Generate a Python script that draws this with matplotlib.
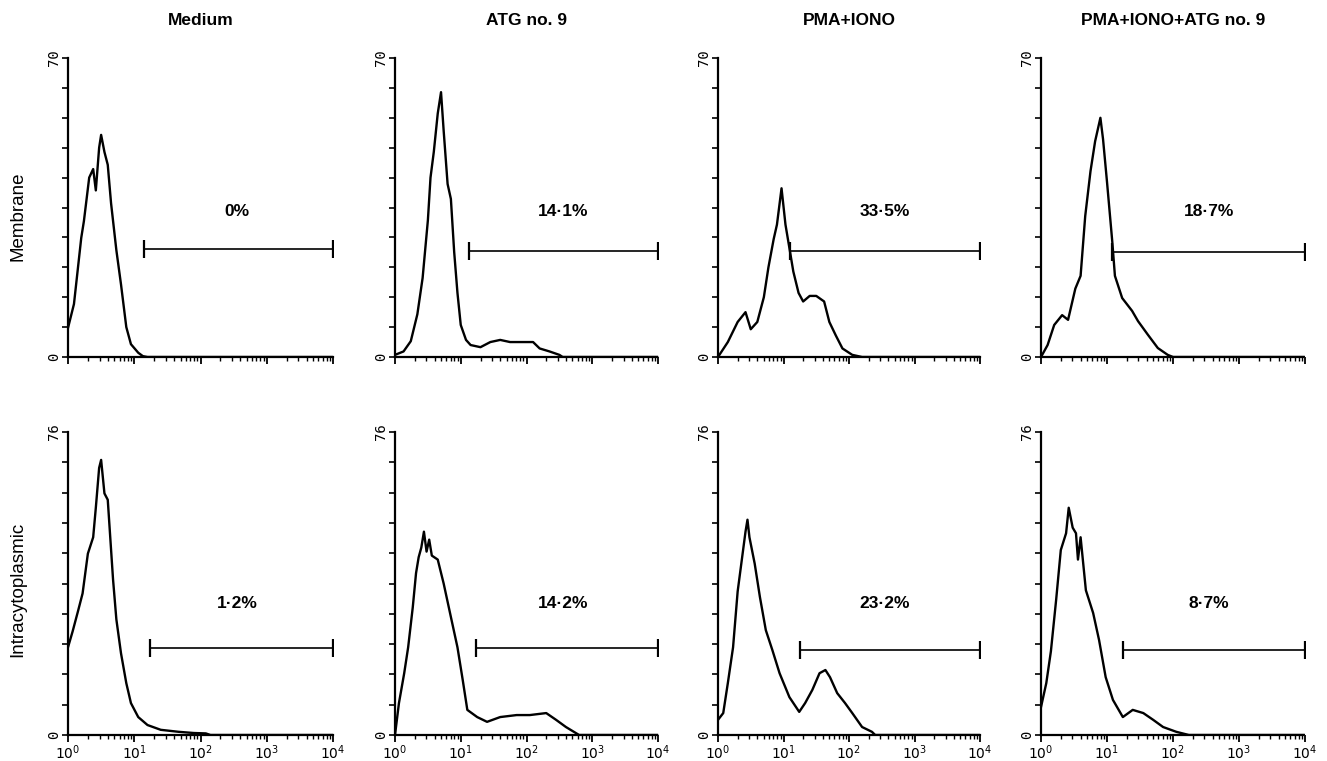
"""
Flow cytometry histograms: membrane vs intracytoplasmic staining
under four culture conditions, with marker gates and % positive.
"""
import numpy as np
import matplotlib
matplotlib.use("Agg")
import matplotlib.pyplot as plt
from matplotlib.ticker import FixedLocator, NullFormatter

plt.rcParams["font.family"] = ["Liberation Sans", "DejaVu Sans"]

CONDITIONS = ["Medium", "ATG no. 9", "PMA+IONO", "PMA+IONO+ATG no. 9"]
ROWS = ["Membrane", "Intracytoplasmic"]
YMAX = [70, 76]

# histogram outlines: position in decades (log10 fluorescence) and cell count
mem_medium_x = [0.0, 0.09, 0.2, 0.24, 0.32, 0.38, 0.42, 0.47, 0.5, 0.55, 0.6, 0.65,
                0.73, 0.8, 0.88, 0.95, 1.06, 1.13, 1.2, 4.0]
mem_medium_y = [6.8, 12.4, 27.9, 31.8, 42, 44, 39, 49, 52, 48, 45, 36,
                25, 17, 7, 3, 1, 0.2, 0, 0]

mem_atg_x = [0.0, 0.13, 0.24, 0.34, 0.42, 0.5, 0.54, 0.59, 0.65, 0.7, 0.74, 0.8,
             0.85, 0.9, 0.95, 1.0, 1.08, 1.15, 1.3, 1.45, 1.6, 1.75, 1.95, 2.1,
             2.2, 2.35, 2.5, 2.55, 4.0]
mem_atg_y = [0.5, 1.3, 3.7, 10, 18.5, 32, 42, 48, 57, 62, 53, 40.5,
             37, 24.6, 15, 7.5, 4, 2.8, 2.3, 3.5, 4, 3.5, 3.5, 3.5,
             2, 1.3, 0.5, 0, 0]

mem_pma_x = [0.0, 0.15, 0.3, 0.42, 0.5, 0.6, 0.7, 0.77, 0.85, 0.9, 0.97, 1.03,
             1.1, 1.15, 1.23, 1.3, 1.4, 1.5, 1.62, 1.7, 1.8, 1.9, 2.05, 2.2, 4.0]
mem_pma_y = [0, 3.5, 8.2, 10.5, 6.5, 8.2, 14, 21, 27.6, 31, 39.5, 31,
             24.6, 20, 15, 13, 14.3, 14.3, 13, 8.2, 5, 2, 0.5, 0, 0]

mem_both_x = [0.0, 0.1, 0.2, 0.32, 0.41, 0.52, 0.6, 0.67, 0.75, 0.82, 0.9, 0.94,
              1.0, 1.08, 1.12, 1.23, 1.38, 1.47, 1.62, 1.77, 1.92, 2.0, 4.0]
mem_both_y = [0, 2.8, 7.5, 9.8, 8.7, 16, 19, 33, 43.5, 50.5, 56, 51,
              41, 27, 19, 13.8, 10.8, 8.4, 5.2, 2.1, 0.5, 0, 0]

ic_medium_x = [0.0, 0.07, 0.15, 0.22, 0.3, 0.38, 0.42, 0.47, 0.5, 0.55, 0.6, 0.68,
               0.73, 0.8, 0.88, 0.95, 1.06, 1.2, 1.4, 1.67, 1.9, 2.08, 2.15, 4.0]
ic_medium_y = [22, 26, 31, 35.5, 45.5, 49.6, 57, 67, 69, 60.6, 59, 39,
               29, 20.5, 13, 8, 4.5, 2.5, 1.3, 0.8, 0.5, 0.4, 0, 0]

ic_atg_x = [0.0, 0.06, 0.14, 0.2, 0.27, 0.32, 0.36, 0.4, 0.44, 0.48, 0.52, 0.56, 0.65,
            0.74, 0.85, 0.95, 1.03, 1.1, 1.25, 1.4, 1.6, 1.85, 2.05, 2.3, 2.45,
            2.6, 2.75, 2.8, 4.0]
ic_atg_y = [0, 8, 15.5, 22, 32, 40.6, 44.6, 47, 51, 46, 49, 45, 44,
            38, 29.6, 22, 13.8, 6.3, 4.5, 3.3, 4.5, 5, 5, 5.5, 3.8,
            2, 0.5, 0, 0]

ic_pma_x = [0.0, 0.08, 0.15, 0.23, 0.3, 0.38, 0.42, 0.45, 0.48, 0.56, 0.64, 0.73,
            0.83, 0.94, 1.09, 1.24, 1.33, 1.44, 1.55, 1.64, 1.71, 1.82, 1.94, 2.05,
            2.2, 2.35, 2.4, 4.0]
ic_pma_y = [3.8, 5.5, 13, 22, 36, 46, 51, 54, 49.6, 43, 34.6, 26.3,
            21.3, 15.5, 9.5, 5.8, 8, 11.3, 15.5, 16.3, 14.5, 10.5, 8, 5.5,
            2, 0.8, 0, 0]

ic_both_x = [0.0, 0.08, 0.15, 0.23, 0.3, 0.38, 0.42, 0.48, 0.53, 0.56, 0.6, 0.68,
             0.79, 0.88, 0.98, 1.09, 1.24, 1.39, 1.55, 1.7, 1.85, 2.05, 2.24, 4.0]
ic_both_y = [7, 13, 21, 34, 46.4, 50.6, 57, 52, 50.6, 44, 49.6, 36.3,
             30.6, 23.8, 14.5, 8.8, 4.5, 6.3, 5.5, 3.8, 2, 0.8, 0, 0]

HIST_X = [[mem_medium_x, mem_atg_x, mem_pma_x, mem_both_x],
          [ic_medium_x, ic_atg_x, ic_pma_x, ic_both_x]]
HIST_Y = [[mem_medium_y, mem_atg_y, mem_pma_y, mem_both_y],
          [ic_medium_y, ic_atg_y, ic_pma_y, ic_both_y]]

# marker gates (start decade, end decade, height) and % positive
gate_start = [[1.15, 1.13, 1.10, 1.08], [1.24, 1.23, 1.25, 1.24]]
gate_end = [[4.0, 4.0, 4.0, 4.0], [4.0, 4.0, 4.0, 4.0]]
gate_level = [[25.3, 24.8, 24.8, 24.5], [21.8, 21.8, 21.3, 21.3]]
pct_labels = [["0%", "14·1%", "33·5%", "18·7%"], ["1·2%", "14·2%", "23·2%", "8·7%"]]

XTICK_LABELS = [r"$10^{0}$", r"$10^{1}$", r"$10^{2}$", r"$10^{3}$", r"$10^{4}$"]


def main():
    fig = plt.figure(figsize=(13.27, 7.61), dpi=100)

    lefts = [68, 395, 718, 1041]
    widths = [265, 263, 262, 264]
    row_top = [58, 432]
    row_bot = [357, 735]
    W, H = 1327, 761

    minor = [m * 10 ** k for k in range(4) for m in range(2, 10)]

    for r in range(2):
        for c in range(4):
            ax = fig.add_axes([lefts[c] / W, 1 - row_bot[r] / H,
                               widths[c] / W, (row_bot[r] - row_top[r]) / H])
            xs = 10 ** np.array(HIST_X[r][c])
            ax.plot(xs, HIST_Y[r][c], color="black", lw=1.7)

            ax.set_xscale("log")
            ax.set_xlim(1, 1e4)
            ax.set_ylim(0, YMAX[r])

            for side in ("top", "right"):
                ax.spines[side].set_visible(False)
            for side in ("left", "bottom"):
                ax.spines[side].set_linewidth(1.6)
                ax.spines[side].set_linestyle((0, (6, 1)))

            ax.xaxis.set_major_locator(FixedLocator([1, 10, 100, 1000, 10000]))
            ax.xaxis.set_minor_locator(FixedLocator(minor))
            ax.xaxis.set_minor_formatter(NullFormatter())
            ax.tick_params(axis="x", which="major", length=5, width=1.3,
                           direction="out", pad=1)
            ax.tick_params(axis="x", which="minor", length=3, width=1.0, direction="out")
            if r == 1:
                ax.set_xticklabels(XTICK_LABELS, fontsize=10, family="DejaVu Sans Mono")
            else:
                ax.set_xticklabels([])

            yt = np.linspace(0, YMAX[r], 11)
            ax.set_yticks(yt)
            ylabs = [""] * 11
            ylabs[0] = "0"
            ylabs[-1] = str(YMAX[r])
            ax.set_yticklabels(ylabs, rotation=90, va="center", fontsize=10,
                               family="DejaVu Sans Mono")
            ax.tick_params(axis="y", length=4, width=1.2, direction="out", pad=1)

            g0, g1 = 10 ** gate_start[r][c], 10 ** gate_end[r][c]
            gy = gate_level[r][c]
            ax.plot([g0, g1], [gy, gy], color="black", lw=1.2)
            ax.plot([g0, g1], [gy, gy], ls="none", marker="|", ms=13, mew=1.6,
                    color="black")

            ax.text(10 ** 2.55, 34 if r == 0 else 33, pct_labels[r][c],
                    ha="center", va="center", fontsize=12.5, fontweight="bold")

            if r == 0:
                ax.text(0.5, 1.0 + 38 / 299, CONDITIONS[c], transform=ax.transAxes,
                        ha="center", va="center", fontsize=12.5, fontweight="bold")
            if c == 0:
                ax.text(-50 / widths[0], 0.47 if r == 0 else 0.48, ROWS[r],
                        transform=ax.transAxes, rotation=90, ha="center",
                        va="center", fontsize=13.5)

    fig.savefig("out.png", dpi=100)


if __name__ == "__main__":
    main()
